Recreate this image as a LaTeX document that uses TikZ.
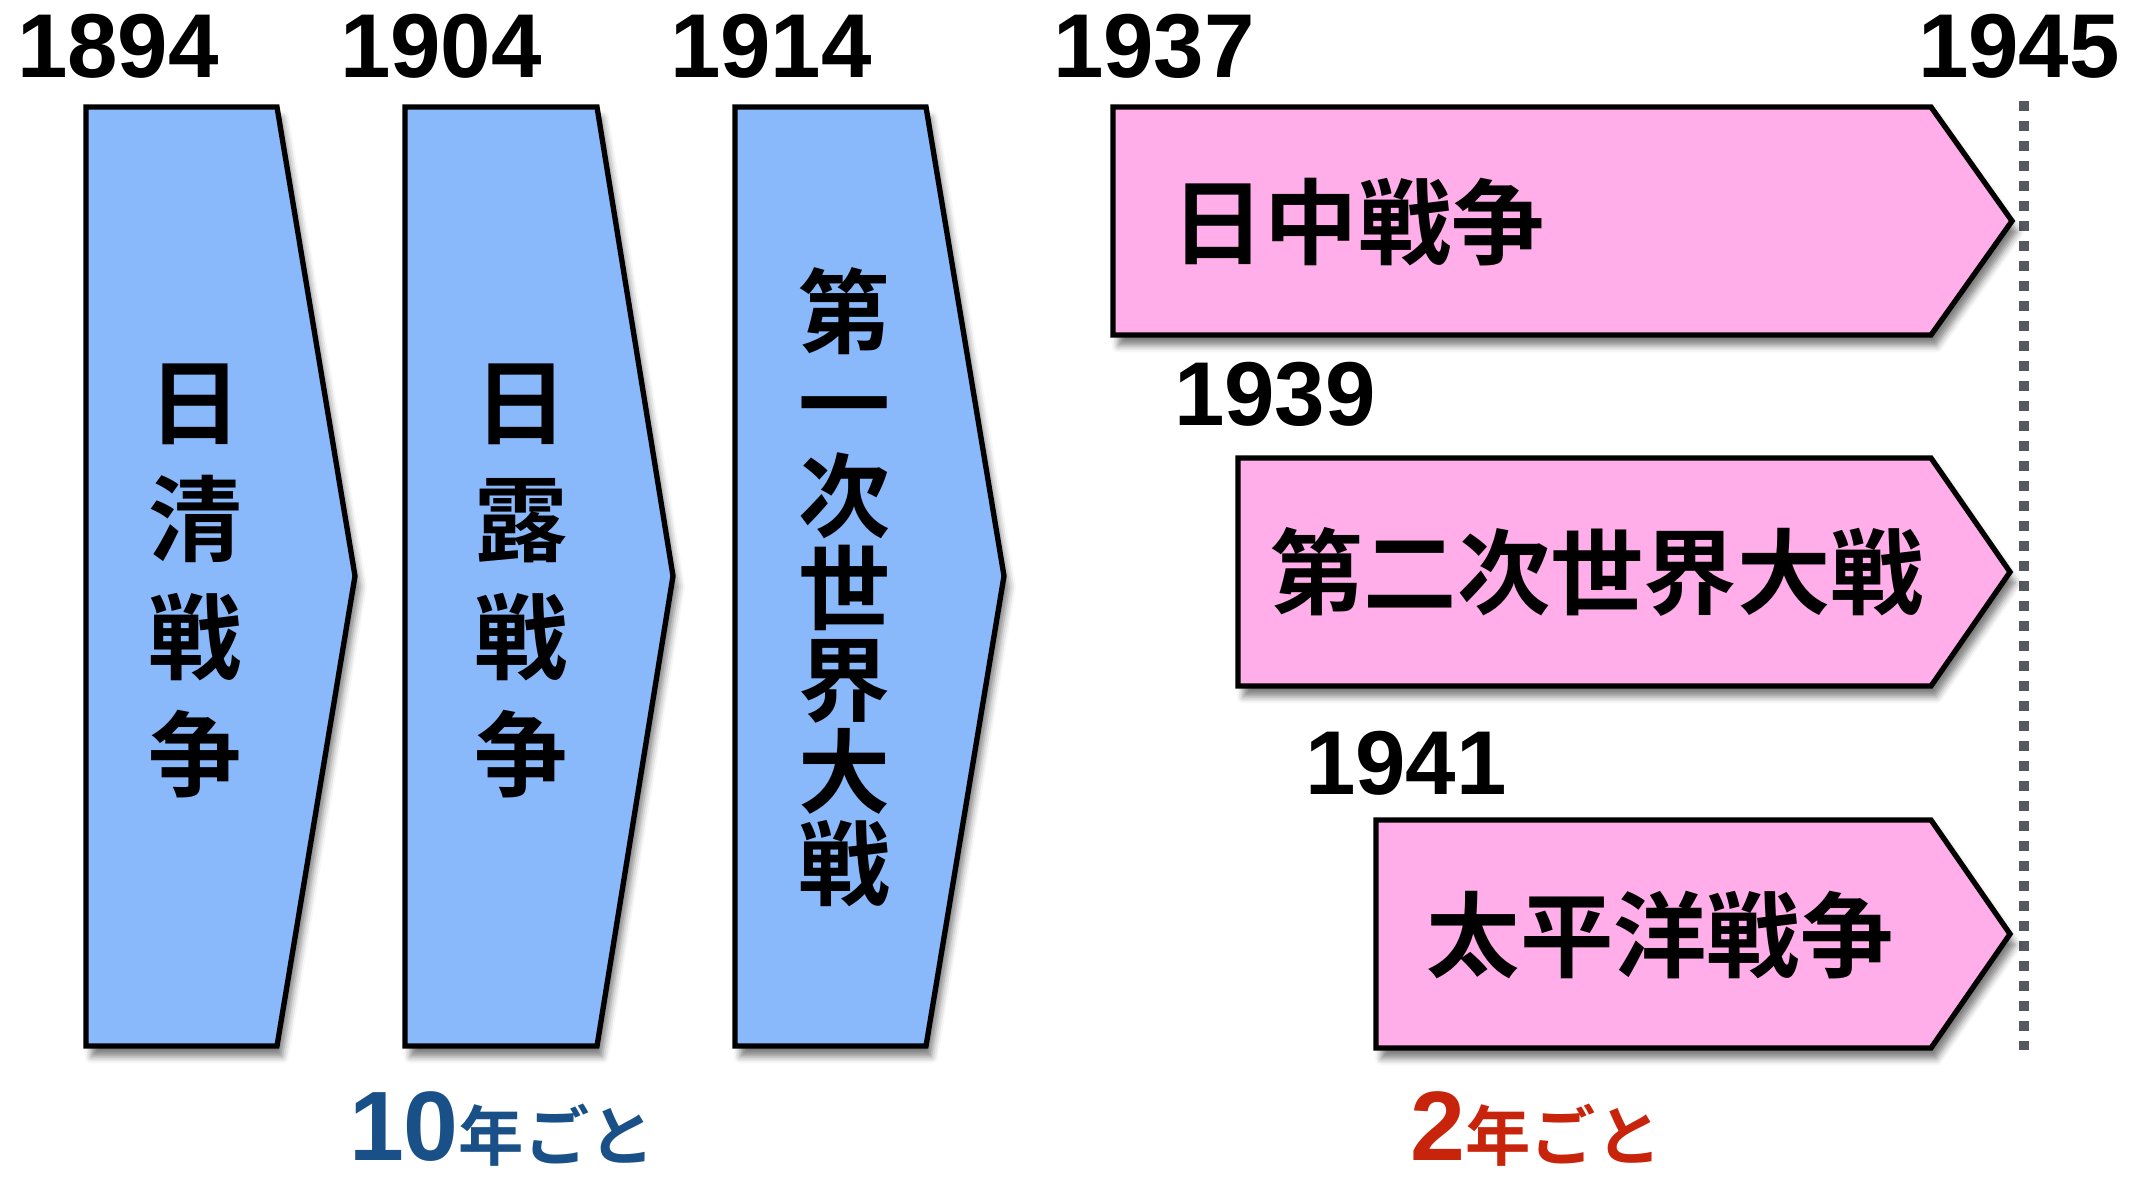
\documentclass[tikz,border=0pt]{standalone}
\usepackage{fontspec}
\setmainfont{Noto Sans CJK JP}[BoldFont={Noto Sans CJK JP Bold}]
\newfontfamily\digitfont{Liberation Sans}
\usetikzlibrary{shadows,shadows.blur}

\definecolor{boxblue}{RGB}{138,185,251}
\definecolor{boxpink}{RGB}{255,174,233}
\definecolor{tenblue}{RGB}{26,80,136}
\definecolor{twored}{RGB}{200,36,12}
\definecolor{endgray}{RGB}{85,89,95}

\newcommand{\yearfont}{\fontsize{68}{68}\selectfont\digitfont\bfseries}
\newcommand{\warfont}{\fontsize{70}{70}\selectfont\bfseries}

\begin{document}
\begin{tikzpicture}[x=0.75pt,y=0.75pt,yscale=-1,xscale=1,
  warshape/.style={draw=black, line width=4pt, line join=miter,
    blur shadow={shadow xshift=4pt, shadow yshift=-8pt, shadow blur radius=5pt, shadow opacity=50}},
  bluewar/.style={warshape, fill=boxblue},
  pinkwar/.style={warshape, fill=boxpink},
  year/.style={anchor=base, inner sep=0pt, font=\yearfont},
  upright/.style={align=center, inner sep=0pt},
  pace/.style={anchor=base, inner sep=0pt, text depth=0pt, font=\bfseries}]
\useasboundingbox (0,0) rectangle (2134,1183);

%End of war line
\coordinate (endtop) at (2024,101);
\coordinate (endbot) at (2024,1050);
\draw [color=endgray, line width=7.5pt, dash pattern=on 7.5pt off 7.5pt] (endtop) -- (endbot);

%Blue chevrons
\draw [bluewar] (86,107) -- (277,107) -- (355,576) -- (277,1046) -- (86,1046) -- cycle ;
\draw [bluewar] (405,107) -- (597,107) -- (673,576) -- (597,1046) -- (405,1046) -- cycle ;
\draw [bluewar] (735,107) -- (926,107) -- (1004,576) -- (926,1046) -- (735,1046) -- cycle ;

%Pink chevrons
\draw [pinkwar] (1113,107) -- (1931,107) -- (2012,221) -- (1931,335) -- (1113,335) -- cycle ;
\draw [pinkwar] (1238,458) -- (1931,458) -- (2010,572) -- (1931,686) -- (1238,686) -- cycle ;
\draw [pinkwar] (1376,820) -- (1931,820) -- (2010,934) -- (1931,1048) -- (1376,1048) -- cycle ;

% Text Node
\node [year] (y1894) at (118,77) {1894};
\node [year] (y1904) at (441,77) {1904};
\node [year] (y1914) at (771,77) {1914};
\node [year] (y1937) at (1154,77) {1937};
\node [year] (y1945) at (2019,77) {1945};
\node [year] (y1939) at (1275,425) {1939};
\node [year] (y1941) at (1406,794) {1941};

% Text Node
\node [upright, font=\fontsize{70}{88}\selectfont\bfseries] (nisshin) at (195,581) {日\\清\\戦\\争};
\node [upright, font=\fontsize{70}{88}\selectfont\bfseries] (nichiro) at (521,581) {日\\露\\戦\\争};
\node [upright, font=\fontsize{69}{69}\selectfont\bfseries] (ww1) at (844,587) {第\\一\\次\\世\\界\\大\\戦};

% Text Node
\node [inner sep=0pt, font=\warfont] (nicchu) at (1358,222) {日中戦争};
\node [inner sep=0pt, font=\warfont] (ww2) at (1597,572) {第二次世界大戦};
\node [inner sep=0pt, font=\warfont] (pacific) at (1660,935) {太平洋戦争};

% Text Node
\node [pace, color=tenblue] (every10) at (502,1160) {{\fontsize{74}{74}\selectfont\digitfont\bfseries 10}{\fontsize{49}{49}\selectfont 年ごと}};
\node [pace, color=twored] (every2) at (1536,1160) {{\fontsize{74}{74}\selectfont\digitfont\bfseries 2}{\fontsize{49}{49}\selectfont 年ごと}};

\end{tikzpicture}
\end{document}
